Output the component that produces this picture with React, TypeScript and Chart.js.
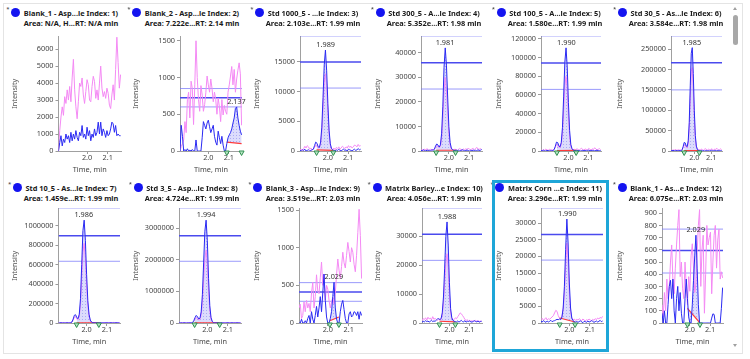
import React, { useEffect, useRef } from "react";
import { Chart, registerables } from "chart.js";
Chart.register(...registerables);

// ---------- data ----------
const TIME = [
  1.862, 1.868, 1.874, 1.88, 1.886, 1.892, 1.898, 1.904, 1.91, 1.916,
  1.922, 1.928, 1.934, 1.94, 1.946, 1.952, 1.958, 1.964, 1.97, 1.976,
  1.982, 1.988, 1.994, 2.0, 2.006, 2.012, 2.018, 2.024, 2.03, 2.036,
  2.042, 2.048, 2.054, 2.06, 2.066, 2.072, 2.078, 2.084, 2.09, 2.096,
  2.102, 2.108, 2.114, 2.12, 2.126, 2.132, 2.138, 2.144, 2.15, 2.156,
  2.162,
];
const X_MIN = 1.862;
const X_MAX = 2.164;
const X_TICKS = [2.0, 2.1];

const BLUE_1 = [0,500,900,300,700,500,1000,700,900,500,1100,600,1000,700,1200,800,600,1100,900,1500,800,1000,700,1400,900,1200,600,1000,800,1300,900,1100,1700,1000,1700,900,1300,1100,800,1200,900,1000,1300,1700,1600,1100,1500,900,1000,900,900];
const PINK_1 = [0,1200,2000,2600,2100,3200,2800,3600,3000,3800,2900,4300,5400,3600,2600,1900,2900,4000,3800,4300,3300,2800,3500,4200,3900,3000,2900,3800,4400,4100,3100,3600,3000,4000,5000,3700,3200,3500,3100,3700,3400,2700,2500,3300,3900,3000,4800,6700,5200,3700,4500];
const BLUE_2 = [0,350,200,0,20,0,30,0,10,0,20,0,0,150,0,0,0,0,180,400,350,300,380,420,330,250,300,350,200,120,80,270,180,100,200,80,0,0,100,180,220,250,300,380,450,580,600,450,350,270,220];
const PINK_2 = [0,60,100,150,400,250,700,800,450,950,850,360,900,1500,1000,700,540,890,760,540,630,800,1020,900,800,980,850,670,800,700,500,720,600,400,700,490,620,540,500,800,900,1020,1150,900,1110,800,980,1100,1200,1050,350];
const BLUE_3 = [100,0,200,100,300,0,100,200,0,100,200,300,900,1500,1300,700,600,1500,4000,9000,14500,17000,13500,8000,3500,1200,400,200,100,0,200,100,300,100,0,200,300,100,200,0,300,200,100,0,200,300,100,200,400,200,300];
const PINK_3 = [200,300,100,400,800,500,900,700,300,500,200,300,600,1000,800,500,600,1200,3200,7000,11500,13000,11000,6500,2800,1000,400,300,500,200,600,400,700,300,500,800,600,400,700,500,900,600,800,500,700,1000,900,700,1100,800,900];
const BLUE_4 = [300,100,500,200,0,400,200,300,100,500,300,700,2000,2900,2400,1600,2500,7000,18000,34000,42000,35000,22000,10000,3500,1200,500,300,200,400,100,300,0,200,500,300,100,200,400,200,0,300,100,400,200,300,100,500,200,300,600];
const PINK_4 = [300,600,200,800,400,1000,500,300,700,400,600,500,1500,2200,1800,1300,1900,5000,13000,24500,30000,25000,16000,7000,2500,900,600,400,800,500,300,700,1000,600,400,800,500,900,600,1200,700,500,800,1100,600,900,1500,800,700,1000,600];
const BLUE_5 = [500,200,800,300,0,600,400,200,700,300,500,1500,5000,9500,9000,5500,4500,9000,25000,58000,95000,110500,90000,52000,22000,7000,2500,1000,600,300,800,200,500,0,400,700,300,500,200,600,900,400,300,700,500,200,600,800,400,300,500];
const PINK_5 = [1000,500,1500,800,2000,1200,600,1800,900,1400,700,1500,4000,7000,6500,4000,3500,7000,19000,43000,70000,80000,66000,38000,16000,5000,2000,1500,1800,1200,2500,1600,900,2000,3000,1400,1100,2200,1700,1300,2800,1900,1000,2400,1500,3500,2100,1200,1800,2600,1400];
const BLUE_6 = [1000,400,1500,600,0,1200,800,300,1300,600,900,3000,11000,21000,20000,12000,11000,25000,70000,160000,240000,254000,190000,100000,38000,12000,4000,2000,1000,500,1500,400,1000,0,800,1400,600,900,300,1200,1800,800,500,1400,1000,400,1200,1600,800,600,1000];
const PINK_6 = [2000,1000,3000,1500,4000,2500,1200,3500,1800,2800,1400,2500,8000,15000,14500,9000,8000,19000,55000,130000,195000,205000,150000,80000,30000,10000,4000,3000,3500,2400,5000,3200,1800,4000,6000,2800,2200,4400,3400,2600,5600,3800,2000,4800,3000,7000,4200,2400,3600,5200,2800];
const BLUE_7 = [2000,1000,3000,0,2000,1500,500,2500,1000,2000,3000,10000,40000,80000,85000,55000,45000,90000,250000,600000,950000,1058000,850000,500000,230000,90000,30000,10000,4000,2000,1000,3000,1500,0,2000,1000,2500,1500,500,2000,3000,1000,1500,2500,500,2000,1000,3000,1500,2000,1000];
const PINK_7 = [3000,1500,4000,2000,5000,2500,1000,4500,2000,3500,3000,8000,30000,60000,65000,42000,35000,70000,190000,460000,730000,820000,660000,390000,180000,70000,24000,9000,5000,3000,6000,2500,4000,2000,5000,3500,1500,4500,3000,2000,5500,2500,3000,4000,2000,6000,3500,2500,4500,3000,2000];
const BLUE_8 = [5000,2000,8000,0,6000,3000,1000,7000,2000,5000,4000,15000,70000,170000,240000,200000,130000,150000,350000,900000,1900000,2900000,3250000,2600000,1400000,550000,170000,50000,15000,5000,2000,7000,3000,0,5000,2000,6000,3000,1000,5000,8000,2000,4000,6000,1000,5000,3000,7000,2000,4000,3000];
const PINK_8 = [8000,3000,12000,5000,15000,7000,2000,10000,6000,9000,4000,12000,50000,120000,170000,145000,95000,110000,250000,650000,1350000,2050000,2300000,1850000,1000000,400000,120000,40000,15000,8000,14000,6000,10000,4000,12000,9000,5000,11000,7000,3000,13000,8000,6000,10000,4000,15000,9000,7000,11000,6000,5000];
const BLUE_9 = [0,0,50,0,0,30,0,60,100,0,150,50,0,100,220,80,200,350,150,400,650,300,80,0,0,60,150,350,540,200,50,0,0,150,250,300,180,60,0,0,120,150,80,100,150,140,100,150,50,150,100];
const PINK_9 = [200,250,60,100,280,150,300,200,260,150,400,540,200,350,640,420,390,600,810,500,650,300,500,450,300,200,280,340,250,400,640,850,700,590,750,940,800,730,900,1070,950,810,1000,940,780,680,900,1200,1510,1160,590];
const BLUE_10 = [300,600,400,800,500,700,300,600,900,500,700,600,1000,1400,1500,1200,1500,3500,9000,19000,30000,35000,27000,14000,5000,1800,900,600,500,400,700,300,600,900,500,400,800,300,600,500,700,400,300,600,800,500,400,700,300,500,600];
const PINK_10 = [800,1500,1200,1800,1000,2000,1400,1700,1100,2200,1300,1600,1200,900,1300,1100,1200,2800,7000,14000,21000,24000,19000,10000,3800,1500,900,1200,1800,1500,2200,2800,3500,3200,2600,2000,1200,900,1100,700,900,600,800,500,700,900,600,800,500,700,600];
const BLUE_11 = [500,300,700,400,200,600,300,500,800,400,600,700,900,1100,1000,1200,1000,1800,4500,11000,22000,31200,24000,12000,4500,1500,700,400,300,500,200,400,700,300,100,500,400,200,600,300,400,700,500,200,400,600,300,500,800,400,600];
const PINK_11 = [1000,1400,800,1200,1600,900,1300,1100,1500,1800,2200,3000,3800,3500,2200,1500,1300,2000,4000,9000,17000,24000,19000,9000,3500,1400,900,1200,800,1100,900,1300,1000,700,1200,900,600,1000,800,1200,900,700,1100,800,1300,1000,1500,1200,1700,1400,2000];
const BLUE_12 = [80,0,100,0,0,150,300,350,200,360,100,0,200,300,100,250,80,0,0,200,360,200,50,0,0,150,350,550,720,450,150,0,0,0,0,0,0,0,0,0,0,40,75,70,0,0,0,0,0,120,290];
const PINK_12 = [150,50,250,100,360,200,300,500,640,350,240,450,640,800,930,380,500,280,200,500,300,150,380,260,550,650,450,250,320,580,800,930,300,600,720,80,400,800,640,700,745,240,500,720,800,450,680,770,360,420,370];

const TITLES = [
  "Blank_1 - Asp...le Index: 1)", "Blank_2 - Asp...le Index: 2)", "Std 1000_5 - ...le Index: 3)",
  "Std 300_5 - A...le Index: 4)", "Std 100_5 - A...le Index: 5)", "Std 30_5 - As...le Index: 6)",
  "Std 10_5 - As...le Index: 7)", "Std 3_5 - Asp...le Index: 8)", "Blank_3 - Asp...le Index: 9)",
  "Matrix Barley...e Index: 10)", "Matrix Corn ...e Index: 11)", "Blank_1 - As...e Index: 12)",
];
const SUBTITLES = [
  "Area: N/A, H...RT: N/A min", "Area: 7.222e...RT: 2.14 min", "Area: 2.103e...RT: 1.99 min",
  "Area: 5.352e...RT: 1.98 min", "Area: 1.580e...RT: 1.99 min", "Area: 3.584e...RT: 1.98 min",
  "Area: 1.459e...RT: 1.99 min", "Area: 4.724e...RT: 1.99 min", "Area: 3.519e...RT: 2.03 min",
  "Area: 4.056e...RT: 1.99 min", "Area: 3.296e...RT: 1.99 min", "Area: 6.075e...RT: 2.03 min",
];
const PEAK_RT = [null, 2.137, 1.989, 1.981, 1.99, 1.985, 1.986, 1.994, 2.029, 1.988, 1.99, 2.029];
const PEAK_START = [null, 2.09, 1.944, 1.937, 1.942, 1.94, 1.951, 1.938, 2.01, 1.95, 1.953, 1.988];
const PEAK_END = [null, 2.162, 2.027, 2.033, 2.039, 2.03, 2.06, 2.06, 2.053, 2.03, 2.028, 2.05];
const BASE_START = [null, 120, 200, 300, 500, 1000, 2000, 5000, 30, 600, 1500, 120];
const BASE_END = [null, 100, 100, 300, 600, 1000, 2000, 3000, 80, 400, 300, 0];
const RATIO_LINES = [
  null, [850, 725, 600], [19300, 15000, 10600], [46700, 36000, 25250],
  [122800, 94250, 66000], [281700, 216600, 150200], [1179000, 898700, 635000],
  [3623000, 2760000, 1951000], [536, 411, 288], [39700, 30700, 21700],
  [34400, 26550, 18880], [770, 594, 410],
];
const Y_MAX = [6750, 1560, 19300, 46700, 122800, 281700, 1179000, 3623000, 1522, 39700, 34400, 940];
const Y_TICKS = [
  [0, 1000, 2000, 3000, 4000, 5000, 6000],
  [0, 500, 1000, 1500],
  [0, 5000, 10000, 15000],
  [0, 10000, 20000, 30000, 40000],
  [0, 20000, 40000, 60000, 80000, 100000, 120000],
  [0, 50000, 100000, 150000, 200000, 250000],
  [0, 200000, 400000, 600000, 800000, 1000000],
  [0, 1000000, 2000000, 3000000],
  [0, 500, 1000, 1500],
  [0, 10000, 20000, 30000],
  [0, 5000, 10000, 15000, 20000, 25000, 30000],
  [0, 100, 200, 300, 400, 500, 600, 700, 800, 900],
];

const BLUE = [BLUE_1, BLUE_2, BLUE_3, BLUE_4, BLUE_5, BLUE_6, BLUE_7, BLUE_8, BLUE_9, BLUE_10, BLUE_11, BLUE_12];
const PINK = [PINK_1, PINK_2, PINK_3, PINK_4, PINK_5, PINK_6, PINK_7, PINK_8, PINK_9, PINK_10, PINK_11, PINK_12];

// ---------- layout ----------
const FONT = "'Noto Sans', 'Open Sans', sans-serif";
const FS = 7.3;
const COL_X0 = 7;
const COL_W = 121;
const TITLE_TOP = [9, 184];
const CANVAS_TOP = [30, 202];
const CANVAS_H = 148;
const AXIS_W = [51.5, 52, 51, 51, 50, 59, 51.5, 51, 50, 52, 50, 50];
const PAD_R = [7, 7, 9, 9, 11, 11, 8, 8, 8, 9, 9, 10];

function interp(series: number[], t: number) {
  for (let k = 0; k < TIME.length - 1; k++) {
    if (t >= TIME[k] && t <= TIME[k + 1]) {
      const f = (t - TIME[k]) / (TIME[k + 1] - TIME[k]);
      return series[k] + f * (series[k + 1] - series[k]);
    }
  }
  return series[series.length - 1];
}

function Panel({ idx }: { idx: number }) {
  const ref = useRef<HTMLCanvasElement>(null);
  const col = idx % 6;
  const row = Math.floor(idx / 6);
  const left = COL_X0 + COL_W * col;

  useEffect(() => {
    const canvas = ref.current!;
    const ctx = canvas.getContext("2d")!;
    const blue = BLUE[idx];
    const pink = PINK[idx];

    const pc = document.createElement("canvas");
    pc.width = 3;
    pc.height = 3;
    const pctx = pc.getContext("2d")!;
    pctx.fillStyle = "rgba(185,185,250,0.5)";
    pctx.fillRect(0, 0, 3, 3);
    pctx.fillStyle = "rgba(110,110,235,0.45)";
    pctx.fillRect(0, 0, 1, 1);
    const pattern = ctx.createPattern(pc, "repeat");

    const datasets: any[] = [
      { data: TIME.map((t, k) => ({ x: t, y: blue[k] })), borderColor: "#2a2af2", borderWidth: 1, pointRadius: 0, order: 0 },
      { data: TIME.map((t, k) => ({ x: t, y: pink[k] })), borderColor: "#f48af4", borderWidth: 1, pointRadius: 0, order: 2 },
    ];
    const lines = RATIO_LINES[idx];
    if (lines) {
      const styles = [
        { c: "rgba(120,120,250,0.75)", w: 1 },
        { c: "#4a4aee", w: 1.5 },
        { c: "rgba(120,120,250,0.75)", w: 1 },
      ];
      lines.forEach((v, k) => {
        datasets.push({
          data: [{ x: X_MIN, y: v }, { x: X_MAX, y: v }],
          borderColor: styles[k].c, borderWidth: styles[k].w, pointRadius: 0, order: 6,
        });
      });
    }
    const rt = PEAK_RT[idx];
    let apex = 0;
    if (rt != null) {
      const s = PEAK_START[idx] as number;
      const e = PEAK_END[idx] as number;
      const bs = BASE_START[idx] as number;
      const be = BASE_END[idx] as number;
      const baseIdx = datasets.length;
      datasets.push({
        data: [{ x: s, y: bs }, { x: e, y: be }],
        borderColor: "#ff3b3b", borderWidth: 1.2, pointRadius: 0, order: 1,
      });
      const pts: any[] = [{ x: s, y: interp(blue, s) }];
      TIME.forEach((t, k) => {
        if (t > s && t < e) pts.push({ x: t, y: blue[k] });
      });
      pts.push({ x: e, y: interp(blue, e) });
      pts.forEach((p) => { if (p.y > apex) apex = p.y; });
      datasets.push({
        data: pts, borderWidth: 0, borderColor: "rgba(0,0,0,0)", pointRadius: 0,
        fill: { target: baseIdx }, backgroundColor: pattern, order: 3,
      });
    }

    const peakPlugin = {
      id: "peakDecor",
      afterDraw(chart: any) {
        if (rt == null) return;
        const c = chart.ctx;
        const xs = chart.scales.x;
        const ys = chart.scales.y;
        c.save();
        c.font = `${FS}px ${FONT}`;
        c.fillStyle = "#333";
        c.textAlign = "center";
        c.textBaseline = "bottom";
        c.fillText((rt as number).toFixed(3), xs.getPixelForValue(rt), ys.getPixelForValue(apex) - 1.5);
        const bottom = chart.chartArea.bottom;
        [PEAK_START[idx], PEAK_END[idx]].forEach((t) => {
          const px = xs.getPixelForValue(t as number);
          c.beginPath();
          c.moveTo(px - 2.5, bottom);
          c.lineTo(px + 2.5, bottom);
          c.lineTo(px, bottom + 4.5);
          c.closePath();
          c.fillStyle = "#b8e6c4";
          c.fill();
          c.strokeStyle = "#2f8f50";
          c.lineWidth = 1;
          c.stroke();
        });
        c.restore();
      },
    };

    const axisCommon = {
      grid: { display: true, drawOnChartArea: false, drawTicks: true, tickLength: 3, color: "#9a9a9a" },
      border: { display: true, color: "#a0a0a0" },
    };

    const chart = new Chart(ctx, {
      type: "line",
      data: { datasets },
      options: {
        animation: false,
        responsive: false,
        maintainAspectRatio: false,
        layout: { padding: { top: 5, right: PAD_R[idx], bottom: 0, left: 0 } },
        plugins: { legend: { display: false }, tooltip: { enabled: false }, title: { display: false } },
        elements: { line: { tension: 0 }, point: { radius: 0 } },
        scales: {
          x: {
            type: "linear",
            min: X_MIN,
            max: X_MAX,
            afterBuildTicks: (s: any) => { s.ticks = X_TICKS.map((v) => ({ value: v })); },
            afterFit: (s: any) => { s.height = 27; },
            ticks: { padding: 0, autoSkip: false, maxRotation: 0, color: "#444", font: { size: FS, family: FONT }, callback: (v: any) => Number(v).toFixed(1) },
            title: { display: true, text: "Time, min", color: "#444", font: { size: FS, family: FONT }, padding: { top: 0, bottom: 4 } },
            ...axisCommon,
          },
          y: {
            type: "linear",
            min: 0,
            max: Y_MAX[idx],
            afterBuildTicks: (s: any) => { s.ticks = Y_TICKS[idx].map((v) => ({ value: v })); },
            afterFit: (s: any) => { s.width = AXIS_W[idx]; },
            ticks: { padding: 2, autoSkip: false, color: "#444", font: { size: FS, family: FONT }, callback: (v: any) => String(v) },
            title: { display: true, text: "Intensity", color: "#555", font: { size: FS, family: FONT }, padding: { top: 4, bottom: 4 } },
            ...axisCommon,
          },
        },
      } as any,
      plugins: [peakPlugin],
    });
    return () => chart.destroy();
  }, [idx]);

  return (
    <>
      <div
        style={{
          position: "absolute", left: left + 64 - 70, top: TITLE_TOP[row], width: 140,
          textAlign: "center", fontFamily: FONT, fontWeight: 700, fontSize: 7.4, lineHeight: "9.7px",
          color: "#1a1a1a", whiteSpace: "nowrap",
        }}
      >
        <div>
          <span style={{ position: "relative" }}>
            <span style={{ position: "absolute", left: -17.5, top: -3, fontSize: 6, fontWeight: 400, color: "#333" }}>*</span>
            <span
              style={{
                position: "absolute", left: -12.5, top: 0, width: 9, height: 9, borderRadius: "50%",
                background: "#1414f0",
              }}
            />
            {TITLES[idx]}
          </span>
        </div>
        <div>{SUBTITLES[idx]}</div>
      </div>
      <canvas
        ref={ref}
        width={COL_W}
        height={CANVAS_H}
        style={{ position: "absolute", left, top: CANVAS_TOP[row], width: COL_W, height: CANVAS_H }}
      />
    </>
  );
}

export default function App() {
  Chart.defaults.font.family = FONT;
  Chart.defaults.font.size = FS;
  const panels = TITLES.map((_, i) => i);
  return (
    <div style={{ position: "absolute", left: 0, top: 0, width: 750, height: 359, background: "#fff", overflow: "hidden" }}>
      <div style={{ position: "absolute", left: 3, top: 3, width: 738, height: 349, border: "1px solid #e4e4e4" }} />
      {panels.map((i) => (
        <Panel key={i} idx={i} />
      ))}
      <div
        style={{
          position: "absolute", left: 491.5, top: 179.5, width: 117, height: 172.5,
          border: "3px solid #1ea6d8", boxSizing: "border-box", pointerEvents: "none",
        }}
      />
      <div style={{ position: "absolute", left: 733, top: 15, width: 4.5, height: 30, borderRadius: 3, background: "#a8a8a8" }} />
      <div
        style={{
          position: "absolute", left: 732.5, top: 7, width: 0, height: 0,
          borderLeft: "2.5px solid transparent", borderRight: "2.5px solid transparent", borderBottom: "3px solid #a0a0a0",
        }}
      />
      <div
        style={{
          position: "absolute", left: 732.5, top: 344, width: 0, height: 0,
          borderLeft: "2.5px solid transparent", borderRight: "2.5px solid transparent", borderTop: "3px solid #a0a0a0",
        }}
      />
    </div>
  );
}
